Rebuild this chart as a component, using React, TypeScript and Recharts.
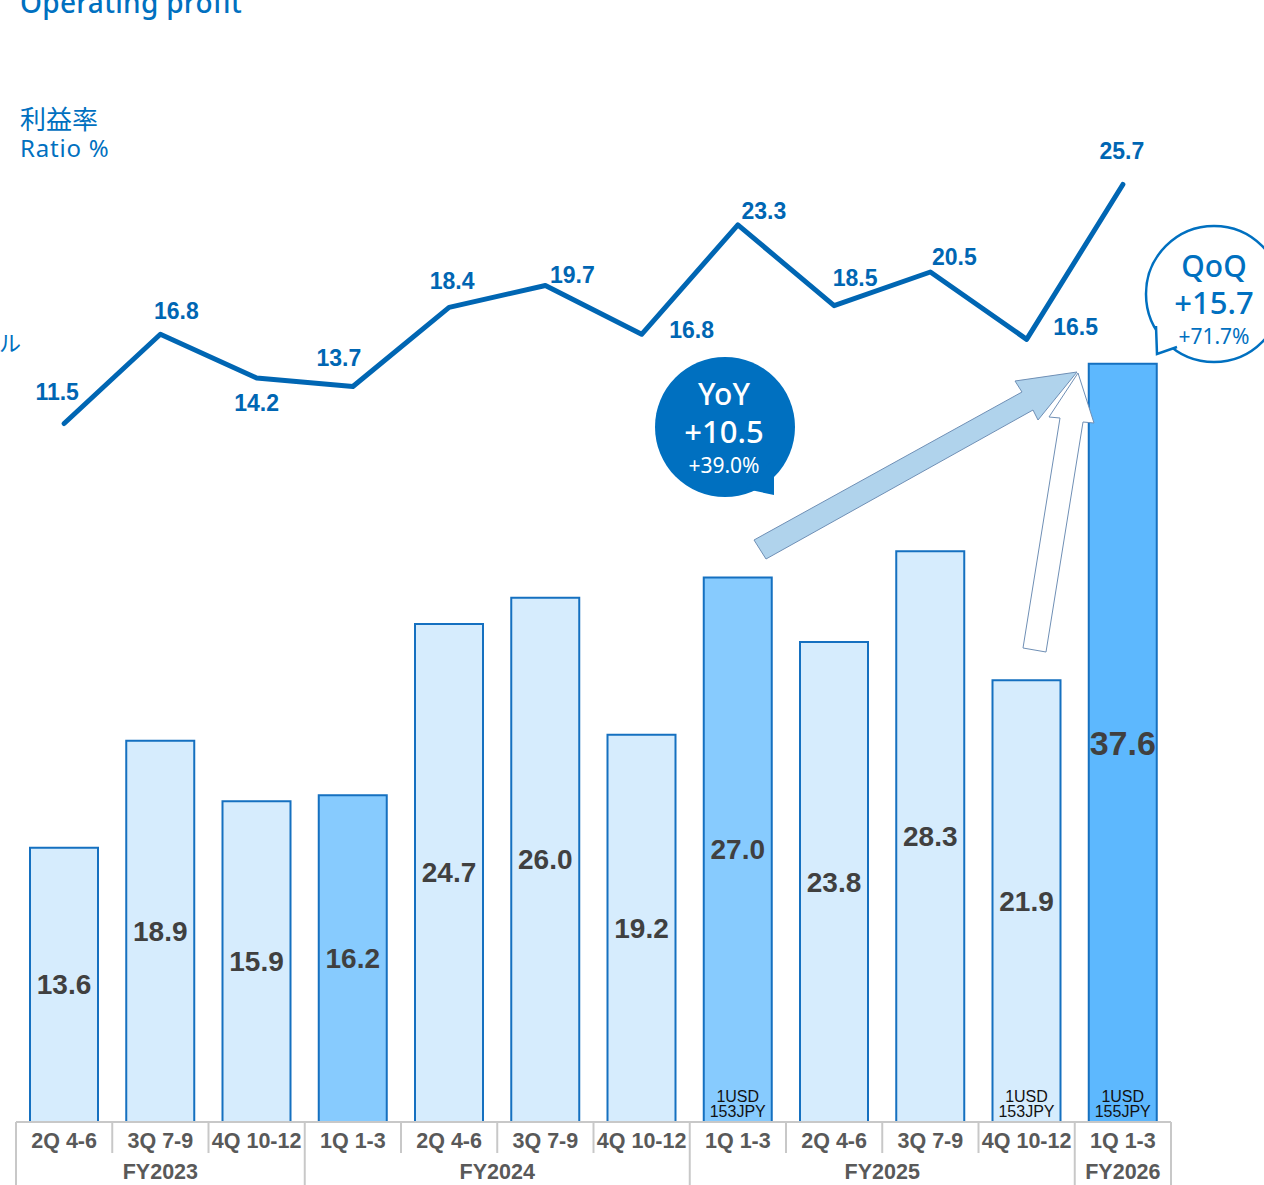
import React from 'react';
import { ComposedChart, Bar, Line, XAxis, YAxis, Cell, LabelList } from 'recharts';

// quarter labels, fiscal years, values (JPY bn) and operating margin (%)
const quarters = ['2Q 4-6', '3Q 7-9', '4Q 10-12', '1Q 1-3', '2Q 4-6', '3Q 7-9', '4Q 10-12', '1Q 1-3', '2Q 4-6', '3Q 7-9', '4Q 10-12', '1Q 1-3'];
const fiscalYears = ['FY2023', 'FY2023', 'FY2023', 'FY2024', 'FY2024', 'FY2024', 'FY2024', 'FY2025', 'FY2025', 'FY2025', 'FY2025', 'FY2026'];
const operatingProfit = [13.6, 18.9, 15.9, 16.2, 24.7, 26.0, 19.2, 27.0, 23.8, 28.3, 21.9, 37.6];
const profitRatio = [11.5, 16.8, 14.2, 13.7, 18.4, 19.7, 16.8, 23.3, 18.5, 20.5, 16.5, 25.7];
const fxNotes = ['', '', '', '', '', '', '', '1USD|153JPY', '', '', '1USD|153JPY', '1USD|155JPY'];

const data = quarters.map((q, i) => ({
    key: `${fiscalYears[i]} ${q}`,
    profit: operatingProfit[i],
    ratio: profitRatio[i],
    fx: fxNotes[i],
}));

// layout
const W = 1264;
const H = 1185;
const M = { top: 33, right: 93, left: 16, bottom: 0 };
const AXIS_H = 63;
const AXIS_TOP = H - M.bottom - AXIS_H;
const BAND = (W - M.left - M.right) / quarters.length;

// where each ratio label sits relative to its point
const ratioLabelOffsets = [
    [-7, -31], [16, -23], [0, 25], [-14, -28], [3, -26], [27, -10],
    [50, -4], [26, -14], [21, -28], [24, -15], [49, -12], [-1, -33],
];

const BLUE = '#0070C0';
const LINE_BLUE = '#0066B3';
const LABEL_FONT = '"Liberation Sans", Arial, sans-serif';
const SANS = '"Noto Sans", "Open Sans", sans-serif';

const barFill = (i: number) => {
    if (i === quarters.length - 1) return '#5DB8FE';
    if (quarters[i].startsWith('1Q')) return '#87CBFE';
    return '#D6ECFD';
};

const AxisTick = (props: any) => {
    const { x } = props;
    const index = props.payload?.index ?? props.index;
    const fy = fiscalYears[index];
    const groupStart = index === 0 || fiscalYears[index - 1] !== fy;
    const isLast = index === quarters.length - 1;
    const size = fiscalYears.filter((f) => f === fy).length;
    const left = x - BAND / 2;
    return (
        <g>
            <line x1={left} x2={left} y1={AXIS_TOP} y2={groupStart ? H : AXIS_TOP + 31} stroke="#C8C8C8" strokeWidth={2} />
            {isLast && (
                <line x1={x + BAND / 2} x2={x + BAND / 2} y1={AXIS_TOP} y2={H} stroke="#C8C8C8" strokeWidth={2} />
            )}
            <text x={x} y={AXIS_TOP + 19} textAnchor="middle" dominantBaseline="central"
                fontFamily={LABEL_FONT} fontWeight="bold" fontSize={21.5} fill="#595959">
                {quarters[index]}
            </text>
            {groupStart && (
                <text x={x + ((size - 1) / 2) * BAND} y={AXIS_TOP + 50} textAnchor="middle" dominantBaseline="central"
                    fontFamily={LABEL_FONT} fontWeight="bold" fontSize={21.5} fill="#595959">
                    {fy}
                </text>
            )}
        </g>
    );
};

const BarValueLabel = (props: any) => {
    const { x, y, width, height, value, index } = props;
    const big = index === operatingProfit.length - 1;
    return (
        <text x={x + width / 2} y={y + height / 2} textAnchor="middle" dominantBaseline="central"
            fontFamily={LABEL_FONT} fontWeight="bold" fontSize={big ? 34 : 28} fill="#404040">
            {Number(value).toFixed(1)}
        </text>
    );
};

const FxLabel = (props: any) => {
    const { x, y, width, height, value } = props;
    if (!value) return null;
    const [a, b] = String(value).split('|');
    const cx = x + width / 2;
    const bottom = y + height;
    return (
        <g fontFamily={LABEL_FONT} fontSize={16} fill="#111" textAnchor="middle">
            <text x={cx} y={bottom - 26} dominantBaseline="central">{a}</text>
            <text x={cx} y={bottom - 11} dominantBaseline="central">{b}</text>
        </g>
    );
};

const RatioLabel = (props: any) => {
    const { x, y, value, index } = props;
    const [dx, dy] = ratioLabelOffsets[index] || [0, -25];
    return (
        <text x={x + dx} y={y + dy} textAnchor="middle" dominantBaseline="central"
            fontFamily={LABEL_FONT} fontWeight="bold" fontSize={23} fill={LINE_BLUE}>
            {Number(value).toFixed(1)}
        </text>
    );
};

function Annotations() {
    return (
        <svg width={W} height={H} style={{ position: 'absolute', left: 0, top: 0, pointerEvents: 'none' }}>
            <text x={20} y={13} fontFamily={SANS} fontWeight={500} fontSize={28} letterSpacing={0.3} fill={BLUE}>Operating profit</text>
            <text x={20} y={129} fontFamily='"Noto Sans CJK JP", sans-serif' fontSize={26} fill={BLUE}>利益率</text>
            <text x={20} y={157} fontFamily={SANS} fontSize={24} letterSpacing={0.8} fill={BLUE}>Ratio %</text>
            <text x={-1} y={351} fontFamily='"Noto Sans CJK JP", sans-serif' fontSize={22} fill={BLUE}>ル</text>

            {/* YoY bubble */}
            <circle cx={725} cy={427} r={70} fill={BLUE} />
            <polygon points="746,489 774,495 774,458" fill={BLUE} />
            <g fontFamily={SANS} fill="#fff" textAnchor="middle">
                <text x={724} y={393} dominantBaseline="central" fontSize={30} fontWeight={500}>YoY</text>
                <text x={724} y={431} dominantBaseline="central" fontSize={31} fontWeight={500}>+10.5</text>
                <text x={724} y={465} dominantBaseline="central" fontSize={21}>+39.0%</text>
            </g>

            {/* QoQ bubble */}
            <circle cx={1214} cy={294} r={68} fill="#fff" stroke={BLUE} strokeWidth={2.5} />
            <polygon points="1156,326 1157,354 1177,347 1180,338 1162,322" fill="#fff" />
            <polyline points="1156,326 1157,354 1177,347" fill="none" stroke={BLUE} strokeWidth={2.5} strokeLinejoin="miter" />
            <g fontFamily={SANS} fill={BLUE} textAnchor="middle">
                <text x={1214} y={265} dominantBaseline="central" fontSize={30} fontWeight={500}>QoQ</text>
                <text x={1214} y={302} dominantBaseline="central" fontSize={31} fontWeight={500}>+15.7</text>
                <text x={1214} y={336} dominantBaseline="central" fontSize={21}>+71.7%</text>
            </g>

            {/* growth arrows */}
            <polygon points="754,540 1022,392 1015,381 1077,372 1038,420 1033,410 766,559"
                fill="#B0D3EC" stroke="#6F8FB5" strokeWidth={1} />
            <polygon points="1023,648 1060,418 1049,417 1078,373 1094,423 1083,422 1046,652"
                fill="#fff" stroke="#6F8FB5" strokeWidth={1} />
        </svg>
    );
}

export default function App() {
    return (
        <div style={{ position: 'absolute', left: 0, top: 0, width: W, height: H, background: '#fff', overflow: 'hidden' }}>
            <ComposedChart width={W} height={H} data={data} margin={M}>
                <XAxis dataKey="key" height={AXIS_H} interval={0} tickLine={false}
                    axisLine={{ stroke: '#C8C8C8', strokeWidth: 2 }} tick={<AxisTick />} />
                <YAxis yAxisId="profit" hide domain={[0, 54]} allowDataOverflow />
                <YAxis yAxisId="ratio" hide orientation="right" domain={[-30, 34.7]} allowDataOverflow />
                <Bar yAxisId="profit" dataKey="profit" barSize={68} stroke="#1570C0" strokeWidth={2}
                    isAnimationActive={false}>
                    {data.map((_, i) => (
                        <Cell key={i} fill={barFill(i)} />
                    ))}
                    <LabelList dataKey="profit" content={<BarValueLabel />} />
                    <LabelList dataKey="fx" content={<FxLabel />} />
                </Bar>
                <Line yAxisId="ratio" type="linear" dataKey="ratio" stroke={LINE_BLUE} strokeWidth={5}
                    strokeLinecap="round" strokeLinejoin="round" dot={false} activeDot={false}
                    isAnimationActive={false}>
                    <LabelList dataKey="ratio" content={<RatioLabel />} />
                </Line>
            </ComposedChart>
            <Annotations />
        </div>
    );
}
